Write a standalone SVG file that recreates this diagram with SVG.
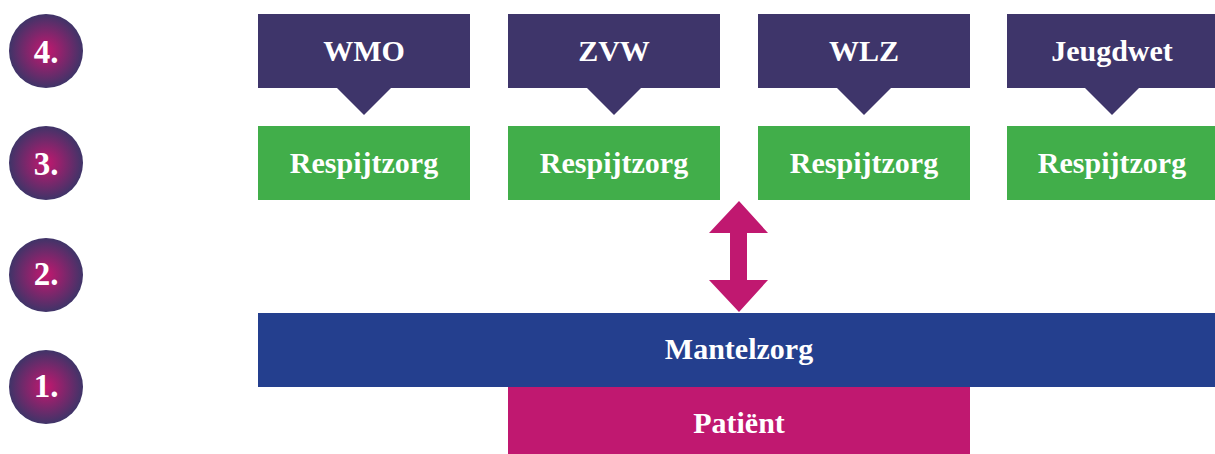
<svg xmlns="http://www.w3.org/2000/svg" width="1215" height="454" viewBox="0 0 1215 454">
<defs>
<radialGradient id="ball" cx="0.5" cy="0.5" r="0.5">
<stop offset="0" stop-color="#c4176f"/>
<stop offset="1" stop-color="#3f3468"/>
</radialGradient>
<style>
.t{font-family:"Liberation Serif","DejaVu Serif",serif;font-weight:bold;font-size:30px;fill:#fff;text-anchor:middle}
.n{font-size:33px}
.law{fill:#3e356a}
.resp{fill:#41ae4a}
.ball{fill:url(#ball)}
</style>
</defs>
<rect width="1215" height="454" fill="#fff"/>
<g id="level4"><circle class="ball" cx="46" cy="51" r="37"/><text class="t n" x="46" y="63">4.</text></g>
<g id="level3"><circle class="ball" cx="46" cy="163" r="37"/><text class="t n" x="46" y="175">3.</text></g>
<g id="level2"><circle class="ball" cx="46" cy="275" r="37"/><text class="t n" x="46" y="285">2.</text></g>
<g id="level1"><circle class="ball" cx="46" cy="387" r="37"/><text class="t n" x="46" y="397">1.</text></g>

<g id="wmo"><path class="law" d="M258 14H470V88H391L364 115L337 88H258Z"/><text class="t" x="364" y="61">WMO</text></g>
<g id="zvw"><path class="law" d="M508 14H720V88H641L614 115L587 88H508Z"/><text class="t" x="614" y="61">ZVW</text></g>
<g id="wlz"><path class="law" d="M758 14H970V88H891L864 115L837 88H758Z"/><text class="t" x="864" y="61">WLZ</text></g>
<g id="jeugdwet"><path class="law" d="M1007 14H1215V88H1139L1112 115L1085 88H1007Z"/><text class="t" x="1112" y="61">Jeugdwet</text></g>

<g id="resp1"><rect class="resp" x="258" y="126" width="212" height="74"/><text class="t" x="364" y="173">Respijtzorg</text></g>
<g id="resp2"><rect class="resp" x="508" y="126" width="212" height="74"/><text class="t" x="614" y="173">Respijtzorg</text></g>
<g id="resp3"><rect class="resp" x="758" y="126" width="212" height="74"/><text class="t" x="864" y="173">Respijtzorg</text></g>
<g id="resp4"><rect class="resp" x="1007" y="126" width="208" height="74"/><text class="t" x="1112" y="173">Respijtzorg</text></g>

<g id="connectors">
<path fill="#c01870" d="M739 201L768 233H747V280H768L739 312L709 280H730V233H709Z"/>
</g>

<g id="mantelzorg"><rect fill="#243f8e" x="258" y="313" width="957" height="74"/><text class="t" x="739" y="359">Mantelzorg</text></g>
<g id="patient"><rect fill="#c01870" x="508" y="387" width="462" height="67"/><text class="t" x="739" y="433">Patiënt</text></g>
</svg>
